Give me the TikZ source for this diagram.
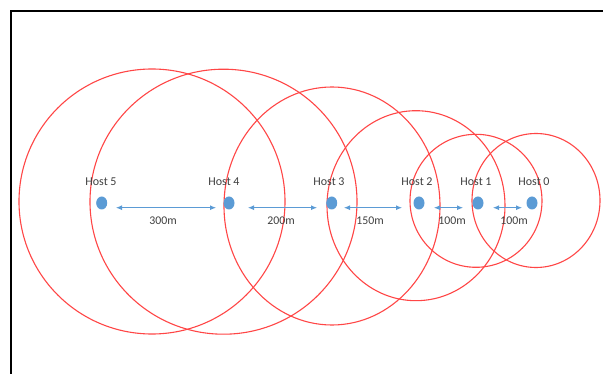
\documentclass[tikz,border=0pt]{standalone}
\usepackage{fontspec}
\setmainfont{Carlito}
\usetikzlibrary{arrows.meta,shapes.geometric}
\definecolor{ringred}{RGB}{255,70,70}
\definecolor{hostblue}{RGB}{91,155,213}
\definecolor{txtgray}{RGB}{64,64,64}
\tikzset{
  ring/.style={draw=ringred,line width=1.1pt},
  hostdot/.style={ellipse,fill=hostblue,draw=none,minimum width=11pt,minimum height=13pt,inner sep=0pt},
  hostlabel/.style={text=txtgray,font=\fontsize{12}{14}\selectfont,inner sep=0pt},
  distlabel/.style={text=txtgray,font=\fontsize{11.8}{14}\selectfont,inner sep=0pt},
  distarrow/.style={draw=hostblue,line width=0.9pt,{Latex[length=6pt,width=5pt]}-{Latex[length=6pt,width=5pt]}},
  frameline/.style={draw=black,line width=2pt,line join=miter}
}
\begin{document}
\begin{tikzpicture}[x=1pt,y=-1pt]
\useasboundingbox (0,0) rectangle (603,374);
\fill[white] (0,0) rectangle (603,374);
% frame
\coordinate (fb) at (11,380);
\coordinate (fc) at (11,11);
\coordinate (fr) at (610,11);
\draw[frameline] (fb) -- (fc) -- (fr);
% range circles
\draw[ring] (152,201.5) ellipse [x radius=133, y radius=132.5];
\draw[ring] (223.5,201.7) ellipse [x radius=133.5, y radius=132.5];
\draw[ring] (332,206) ellipse [x radius=108, y radius=119];
\draw[ring] (416,205.7) ellipse [x radius=89, y radius=95];
\draw[ring] (476,200.8) ellipse [x radius=66, y radius=66.5];
\draw[ring] (536,200.5) ellipse [x radius=64, y radius=67];
% hosts
\node[hostdot] (h5) at (101.7,203) {};
\node[hostdot] (h4) at (229,203) {};
\node[hostdot] (h3) at (331.7,203) {};
\node[hostdot] (h2) at (419,203) {};
\node[hostdot] (h1) at (478,203) {};
\node[hostdot] (h0) at (532,203) {};
\node[hostlabel] (l5) at (101,182) {Host 5};
\node[hostlabel] (l4) at (224,182) {Host 4};
\node[hostlabel] (l3) at (329,182) {Host 3};
\node[hostlabel] (l2) at (417,182) {Host 2};
\node[hostlabel] (l1) at (476,182) {Host 1};
\node[hostlabel] (l0) at (534,182) {Host 0};
% arrow end points
\coordinate (a54s) at (116,207.7);
\coordinate (a54e) at (216,207.7);
\coordinate (a43s) at (248,207.7);
\coordinate (a43e) at (317,207.7);
\coordinate (a32s) at (344,207.7);
\coordinate (a32e) at (402,207.7);
\coordinate (a21s) at (434,207.7);
\coordinate (a21e) at (463,207.7);
\coordinate (a10s) at (493,207.7);
\coordinate (a10e) at (522,207.7);
\draw[distarrow] (a54s) -- (a54e);
\draw[distarrow] (a43s) -- (a43e);
\draw[distarrow] (a32s) -- (a32e);
\draw[distarrow] (a21s) -- (a21e);
\draw[distarrow] (a10s) -- (a10e);
\node[distlabel] (d54) at (163,221) {300m};
\node[distlabel] (d43) at (281,221) {200m};
\node[distlabel] (d32) at (370,221) {150m};
\node[distlabel] (d21) at (452,221) {100m};
\node[distlabel] (d10) at (514,221) {100m};
\end{tikzpicture}
\end{document}
